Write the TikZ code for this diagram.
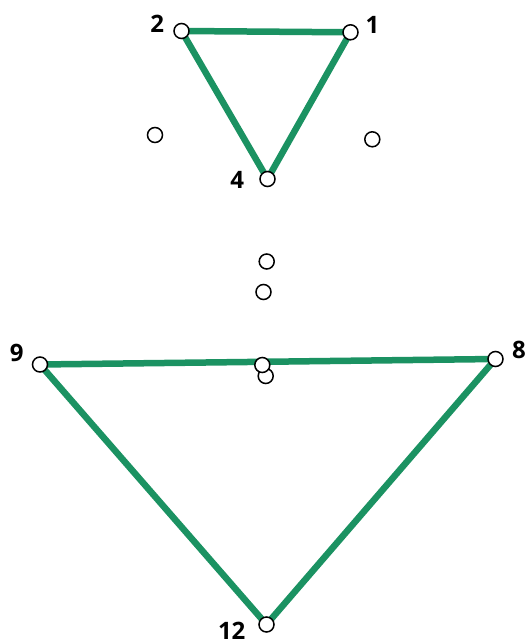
\documentclass[tikz,border=0pt]{standalone}
\usepackage{fontspec}
\setmainfont{Open Sans}
\definecolor{edgegreen}{RGB}{27,146,98}
\begin{document}
\begin{tikzpicture}[x=1pt,y=-1pt,
  vtx/.style={circle,draw=black,fill=white,line width=1.5pt,minimum size=15pt,inner sep=0pt},
  edge/.style={draw=edgegreen,line width=6.5pt},
  lbl/.style={font=\fontsize{24}{24}\selectfont\bfseries,inner sep=0pt,text depth=0pt}]
\useasboundingbox (0,0) rectangle (526,644);
\coordinate (p1) at (350.5,32.3);
\coordinate (p2) at (181.5,31);
\coordinate (p4) at (267.5,179);
\coordinate (p9) at (40,364.5);
\coordinate (p8) at (495.5,359);
\coordinate (p12) at (266.5,624.5);
\draw[edge] (p2) -- (p1);
\draw[edge] (p2) -- (p4);
\draw[edge] (p1) -- (p4);
\draw[edge] (p9) -- (p8);
\draw[edge] (p9) -- (p12);
\draw[edge] (p8) -- (p12);
\node[vtx] (n1) at (p1) {};
\node[vtx] (n2) at (p2) {};
\node[vtx] (n4) at (p4) {};
\node[vtx] (n9) at (p9) {};
\node[vtx] (n8) at (p8) {};
\node[vtx] (n12) at (p12) {};
\node[vtx] (a) at (155,135) {};
\node[vtx] (b) at (372.3,139.3) {};
\node[vtx] (c) at (266.7,261.5) {};
\node[vtx] (d) at (263.5,292) {};
\node[vtx] (f) at (265.7,376) {};
\node[vtx] (e) at (262.3,365) {};
\node[lbl] (l1) at (372.5,25) {1};
\node[lbl] (l2) at (157.3,24) {2};
\node[lbl] (l4) at (237.3,180) {4};
\node[lbl] (l9) at (16.7,352.7) {9};
\node[lbl] (l8) at (519,349.5) {8};
\node[lbl] (l12) at (231.7,630.5) {12};
\end{tikzpicture}
\end{document}
